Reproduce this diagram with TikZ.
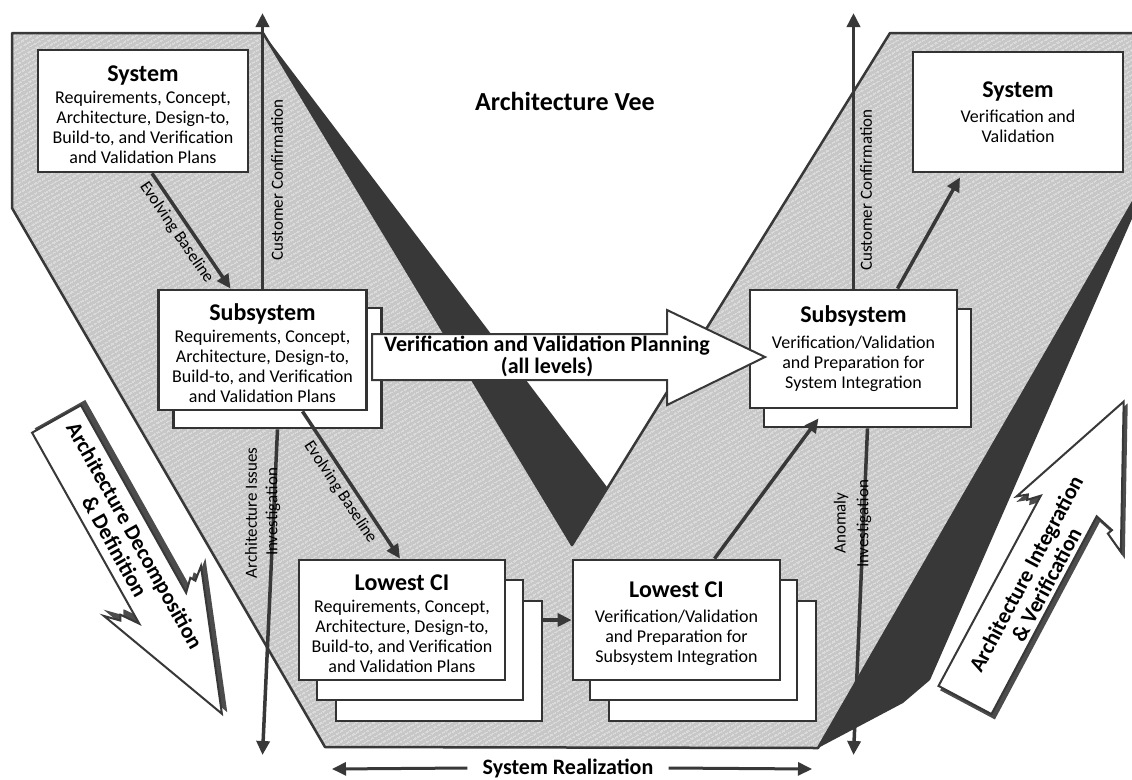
\documentclass[tikz,border=0pt]{standalone}
\usepackage{fontspec}
\setmainfont{Carlito}
\usetikzlibrary{arrows.meta,patterns.meta}
\newcommand\bodyfs{\fontsize{18}{20}\selectfont}
\newcommand\ttl[2][0pt]{{\fontsize{24}{20}\selectfont\bfseries\rule{0pt}{#1}#2}}
\begin{document}
\begin{tikzpicture}[x=1pt,y=-1pt,
  boxst/.style={draw=black!80, line width=2.8pt, fill=white, align=center, inner sep=0pt, minimum width=208pt, minimum height=120pt, font=\bodyfs},
  conn/.style={draw=black!78, line width=3.5pt, -{Triangle[length=14pt,width=13pt]}},
  thinconn/.style={draw=black!78, line width=3pt, -{Triangle[length=14pt,width=13pt]}},
  lbl/.style={font=\fontsize{17}{19}\selectfont, inner sep=0pt},
  bigarrow/.style={fill=white, draw=black!78, line width=2pt, line join=miter},
  shadowst/.style={fill=black!70, draw=black!70, line width=2pt, line join=miter},
  bold22/.style={font=\fontsize{22}{23}\selectfont\bfseries, align=center, inner sep=0pt},
]
\useasboundingbox (0,0) rectangle (1132,779);
\fill[white] (0,0) rectangle (1132,779);

% grey Vee
\fill[black!22] (12,33) -- (263,33) -- (572,545) -- (890,33) -- (1145,33) -- (1145,181) -- (818,748) -- (325,747) -- (12,208) -- cycle;
\fill[pattern={Lines[angle=30,distance=4pt,line width=0.6pt]}, pattern color=white] (12,33) -- (263,33) -- (572,545) -- (890,33) -- (1145,33) -- (1145,181) -- (818,748) -- (325,747) -- (12,208) -- cycle;
\draw[black!78, line width=2.5pt, line join=round] (12,33) -- (263,33) -- (572,545) -- (890,33) -- (1145,33) -- (1145,181) -- (818,748) -- (325,747) -- (12,208) -- cycle;
% dark side faces
\fill[black!78] (263,33) -- (607,487) -- (572,545) -- cycle;
\fill[black!78] (818,748) -- (1145,181) -- (1145,189) -- (930,680) -- (903,703) -- cycle;

% title
\node[font=\fontsize{26}{28}\selectfont\bfseries, inner sep=0pt] (title) at (565,101) {Architecture Vee};

% boxes
\node[boxst, minimum width=210pt, minimum height=122pt] (lsys) at (143,111) {\ttl[24pt]{System}\\[2pt]Requirements, Concept,\\Architecture, Design-to,\\Build-to, and Verification\\and Validation Plans};
\node[boxst, minimum width=210pt] (rsys) at (1018,112) {\ttl{System}\\[5pt]Verification and\\Validation};

\node[boxst] (lsub2) at (277.5,368) {};
\node[boxst] (lsub) at (262.5,350) {\ttl[24pt]{Subsystem}\\[2pt]Requirements, Concept,\\Architecture, Design-to,\\Build-to, and Verification\\and Validation Plans};

\node[boxst, minimum width=207pt, minimum height=118pt] (rsub2) at (867.5,368) {};
\node[boxst, minimum width=207pt, minimum height=118pt] (rsub) at (853.5,349) {\ttl{Subsystem}\\[6pt]Verification/Validation\\and Preparation for\\System Integration};

\node[boxst, minimum width=206pt] (llow3) at (439,661) {};
\node[boxst, minimum width=206pt] (llow2) at (420,640) {};
\node[boxst, minimum width=206pt] (llow) at (402,620) {\ttl[24pt]{Lowest CI}\\[2pt]Requirements, Concept,\\Architecture, Design-to,\\Build-to, and Verification\\and Validation Plans};

\node[boxst, minimum width=207pt] (rlow3) at (712.5,661) {};
\node[boxst, minimum width=207pt] (rlow2) at (693.5,640) {};
\node[boxst, minimum width=207pt] (rlow) at (676.5,620) {\ttl[23pt]{Lowest CI}\\[5pt]Verification/Validation\\and Preparation for\\Subsystem Integration};

% free ends
\coordinate (lccTop) at (262.5,13);
\coordinate (laiBot) at (262.5,755);
\coordinate (rccTop) at (853.5,13);
\coordinate (raiBot) at (853.5,755);
\coordinate (srL) at (332,769);
\coordinate (srR) at (812,769);

% vertical connectors and labels
\draw[conn] (lsub.north) -- (lccTop);
\draw[conn] (lsub2.south) -- (laiBot);
\draw[conn] (rsub.north) -- (rccTop);
\draw[conn] (rsub2.south) -- (raiBot);
\node[lbl, rotate=90] (lcc) at (277,180) {Customer Confirmation};
\node[lbl, rotate=90] (rcc) at (866,190) {Customer Confirmation};
\node[lbl, rotate=90] (lai1) at (251,513) {Architecture Issues};
\node[lbl, rotate=90] (lai2) at (273,512) {Investigation};
\node[lbl, rotate=90] (ran1) at (841,523) {Anomaly};
\node[lbl, rotate=90] (ran2) at (864,524) {Investigation};

% evolving baselines
\draw[conn] ([xshift=9pt]lsys.south) -- node[lbl, sloped, below=4pt, pos=0.45] (eb1) {Evolving Baseline} ([xshift=-32pt]lsub.north);
\draw[conn] ([xshift=40pt]lsub.south) -- node[lbl, sloped, below=4pt, pos=0.5] (eb2) {Evolving Baseline} ([xshift=-2pt]llow.north);

% V&V planning arrow
\draw[bigarrow] (372,334) -- (667,334) -- (667,310) -- (765,357) -- (667,405) -- (667,380) -- (372,380) -- cycle;
\node[bold22, font=\fontsize{22}{22}\selectfont\bfseries] (vvtext) at (547,356) {Verification and Validation Planning\\(all levels)};

% right side connectors
\draw[conn] (llow3.east |- rlow.west) -- (rlow.west);
\draw[conn] ([xshift=38pt]rlow.north) -- ([xshift=-49pt,yshift=10pt]rsub2.south);
\draw[conn] ([xshift=44pt]rsub.north) -- ([xshift=-58pt,yshift=-4pt]rsys.south);

% system realization
\node[bold22] (sr) at (568,768) {System Realization};
\draw[thinconn] ([xshift=-15pt]sr.west) -- (srL);
\draw[thinconn] ([xshift=15pt]sr.east) -- (srR);

% decomposition arrow
\begin{scope}[shift={(60.5,415)}, rotate=-60.7]
\draw[shadowst] (0,-28) -- (215,-28) -- (204,-39) -- (209,-42) -- (199,-54) -- (338,0) -- (195,55) -- (207,43) -- (202,40) -- (219,28) -- (0,28) -- cycle;
\end{scope}
\begin{scope}[shift={(56.5,419)}, rotate=-60.7]
\draw[bigarrow] (0,-28) -- (215,-28) -- (204,-39) -- (209,-42) -- (199,-54) -- (338,0) -- (195,55) -- (207,43) -- (202,40) -- (219,28) -- (0,28) -- cycle;
\node[bold22, rotate=-60.7] (adtxt) at (140,0) {Architecture Decomposition\\\& Definition};
\end{scope}

% integration arrow
\begin{scope}[shift={(968,704)}, rotate=62]
\draw[shadowst] (0,-30) -- (216,-29) -- (206,-39) -- (211,-41) -- (204,-50) -- (338,0) -- (204,68) -- (214,48) -- (219,50) -- (224,30) -- (0,30) -- cycle;
\end{scope}
\begin{scope}[shift={(965,700)}, rotate=62]
\draw[bigarrow] (0,-30) -- (216,-29) -- (206,-39) -- (211,-41) -- (204,-50) -- (338,0) -- (204,68) -- (214,48) -- (219,50) -- (224,30) -- (0,30) -- cycle;
\node[bold22, rotate=62] (aitxt) at (140,6) {Architecture Integration\\\& Verification};
\end{scope}
\end{tikzpicture}
\end{document}
